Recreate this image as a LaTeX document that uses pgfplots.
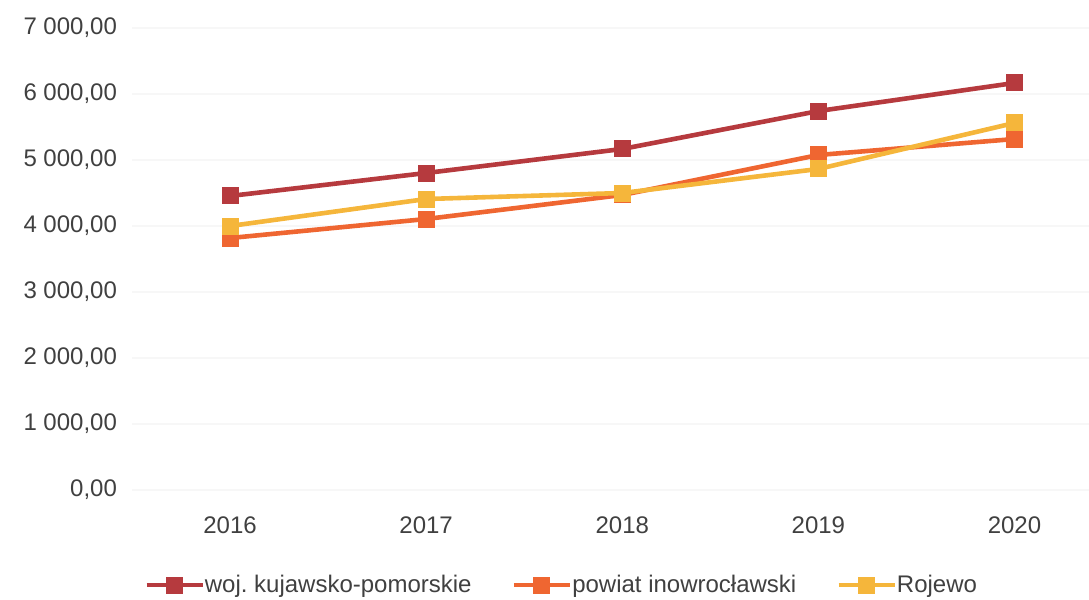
\documentclass[border=0pt]{standalone}
\usepackage{fontspec}
\setmainfont{Liberation Sans}
\usepackage{pgfplots}
\pgfplotsset{compat=1.18}

\definecolor{wojc}{HTML}{B63A3E}
\definecolor{powc}{HTML}{EF6631}
\definecolor{rojc}{HTML}{F5B63B}
\definecolor{txt}{HTML}{404040}

\begin{document}
\begin{tikzpicture}
\useasboundingbox (-66pt,-55pt) rectangle (478.5pt,245pt);
\begin{axis}[
    at={(0,0)}, anchor=south west,
    scale only axis,
    width=478.5pt, height=231pt,
    xmin=-0.5, xmax=4.38,
    ymin=0, ymax=7000,
    xtick={0,1,2,3,4},
    xticklabels={2016,2017,2018,2019,2020},
    ytick={0,1000,...,7000},
    ymajorgrids=true,
    grid style={color=black!3, line width=0.6pt},
    axis line style={draw=none},
    major tick length=0pt,
    font=\fontsize{12}{14}\selectfont,
    ticklabel style={text=txt},
    yticklabel style={xshift=-4pt},
    xticklabel style={yshift=-10pt},
    /pgf/number format/.cd, fixed, fixed zerofill, precision=2, use comma, 1000 sep={\ }, assume math mode=true,
    /pgfplots/.cd,
    legend columns=3,
    legend style={at={(0.450,-0.206)}, anchor=center, draw=none, fill=none,
        font=\fontsize{12}{14}\selectfont, text=txt,
        /tikz/every even column/.append style={column sep=18pt},
        /tikz/every odd column/.append style={column sep=-2pt}},
    legend image code/.code={
        \draw[#1, mark repeat=2, mark phase=2] plot coordinates {(0pt,0pt) (14pt,0pt) (28pt,0pt)};
    },
    every axis plot/.append style={line width=2.3pt, mark=square*, mark size=3.1pt,
        mark options={solid, line width=0pt}},
]
\addplot[color=wojc, mark options={fill=wojc}] coordinates {
    (0,4455) (1,4803) (2,5167) (3,5742) (4,6167)
};
\addlegendentry{woj.\ kujawsko-pomorskie}
\addplot[color=powc, mark options={fill=powc}] coordinates {
    (0,3818) (1,4106) (2,4470) (3,5076) (4,5318)
};
\addlegendentry{powiat inowrocławski}
\addplot[color=rojc, mark options={fill=rojc}] coordinates {
    (0,4000) (1,4409) (2,4500) (3,4864) (4,5561)
};
\addlegendentry{Rojewo}
\end{axis}
\end{tikzpicture}
\end{document}
